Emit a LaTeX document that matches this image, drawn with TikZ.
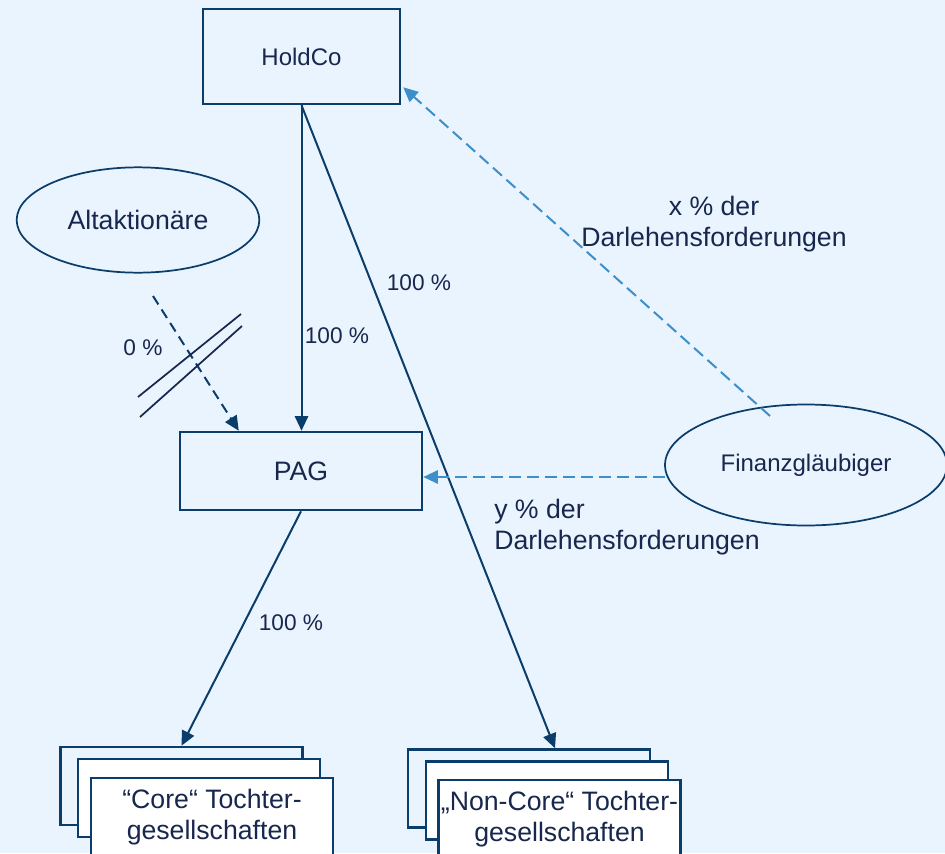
\documentclass[tikz,border=0pt]{standalone}
\usepackage{fontspec}
\setmainfont{Liberation Sans}
\usetikzlibrary{shapes.geometric,arrows.meta,calc}

\definecolor{bgblue}{HTML}{EAF4FE}
\definecolor{linenavy}{HTML}{0B3D6B}
\definecolor{textnavy}{HTML}{17274D}
\definecolor{loanblue}{HTML}{3D8FCA}

\tikzset{
  entity/.style={draw=linenavy, line width=1.9pt, fill=bgblue, text=textnavy, inner sep=0pt,
    minimum width=181.5pt, minimum height=58.5pt, font=\fontsize{20}{23}\selectfont},
  party/.style={ellipse, draw=linenavy, line width=1.3pt, text=textnavy, inner sep=0pt,
    font=\fontsize{20}{23}\selectfont},
  share/.style={draw=linenavy, line width=1.5pt, -{Triangle[length=11pt,width=10pt]}},
  loan/.style={draw=loanblue, line width=1.5pt, dash pattern=on 9pt off 4.5pt,
    -{Triangle[length=11pt,width=10pt]}},
  cut/.style={draw=textnavy, line width=1.3pt},
  lbl/.style={text=textnavy, inner sep=0pt, font=\fontsize{17}{20}\selectfont},
  biglbl/.style={lbl, font=\fontsize{20}{23.5}\selectfont}
}

\begin{document}
\begin{tikzpicture}[x=0.75pt,y=-0.75pt]
  \fill[bgblue] (0,0) rectangle (945,853);
  \clip (0,0) rectangle (945,853);

  % companies and parties
  \node[entity, minimum width=147.75pt, minimum height=71.25pt, font=\fontsize{18}{21}\selectfont] (holdco) at (301.5,56.5) {HoldCo};
  \node[entity] (pag) at (301,471) {PAG};
  \node[party, minimum width=182pt, minimum height=79pt] (alt) at (138,220) {Altaktionäre};
  \node[party, minimum width=211.5pt, minimum height=90.75pt, font=\fontsize{18}{21}\selectfont] (fin) at (806,465) {Finanzgläubiger};

  % subsidiaries (stacked)
  \node[entity] (core1) at (181.5,786) {};
  \node[entity, fill=white] (core2) at (199,798) {};
  \node[entity, fill=white, align=center] (core3) at (212,817) {“Core“ Tochter-\\gesellschaften};
  \node[entity] (nc1) at (529,788.5) {};
  \node[entity, fill=white] (nc2) at (547,800.5) {};
  \node[entity, fill=white, align=center] (nc3) at (559.5,819) {„Non-Core“ Tochter-\\gesellschaften};

  % shareholdings
  \draw[share] (holdco.south) -- (holdco.south |- pag.north);
  \draw[share] (holdco.south) -- ($(nc1.north)+(26,0)$);
  \draw[share] (pag.south) -- (core1.north);
  \coordinate (altEnd) at (153,296);
  \draw[share, dash pattern=on 7.5pt off 4.5pt] (altEnd) -- ($(pag.north west)+(60,0)$);
  \draw[cut] (138,397) -- (241,314);
  \draw[cut] (140,417) -- (242,326);

  % loans
  \coordinate (finTop) at (770,416);
  \draw[loan] (finTop) -- ($(holdco.south east)+(2,-18)$);
  \coordinate (finLeft) at (665,477);
  \draw[loan] (finLeft) -- (finLeft -| pag.east);

  % labels
  \node[lbl] (pctNon) at (419,283) {100 \%};
  \node[lbl] (pctPag) at (337,336) {100 \%};
  \node[lbl] (pctCore) at (291,623) {100 \%};
  \node[lbl] (pctAlt) at (143,348) {0 \%};
  \node[biglbl, align=center] (loanX) at (714,224) {x \% der\\Darlehensforderungen};
  \node[biglbl, align=left, anchor=west] (loanY) at (494,527) {y \% der\\Darlehensforderungen};
\end{tikzpicture}
\end{document}
